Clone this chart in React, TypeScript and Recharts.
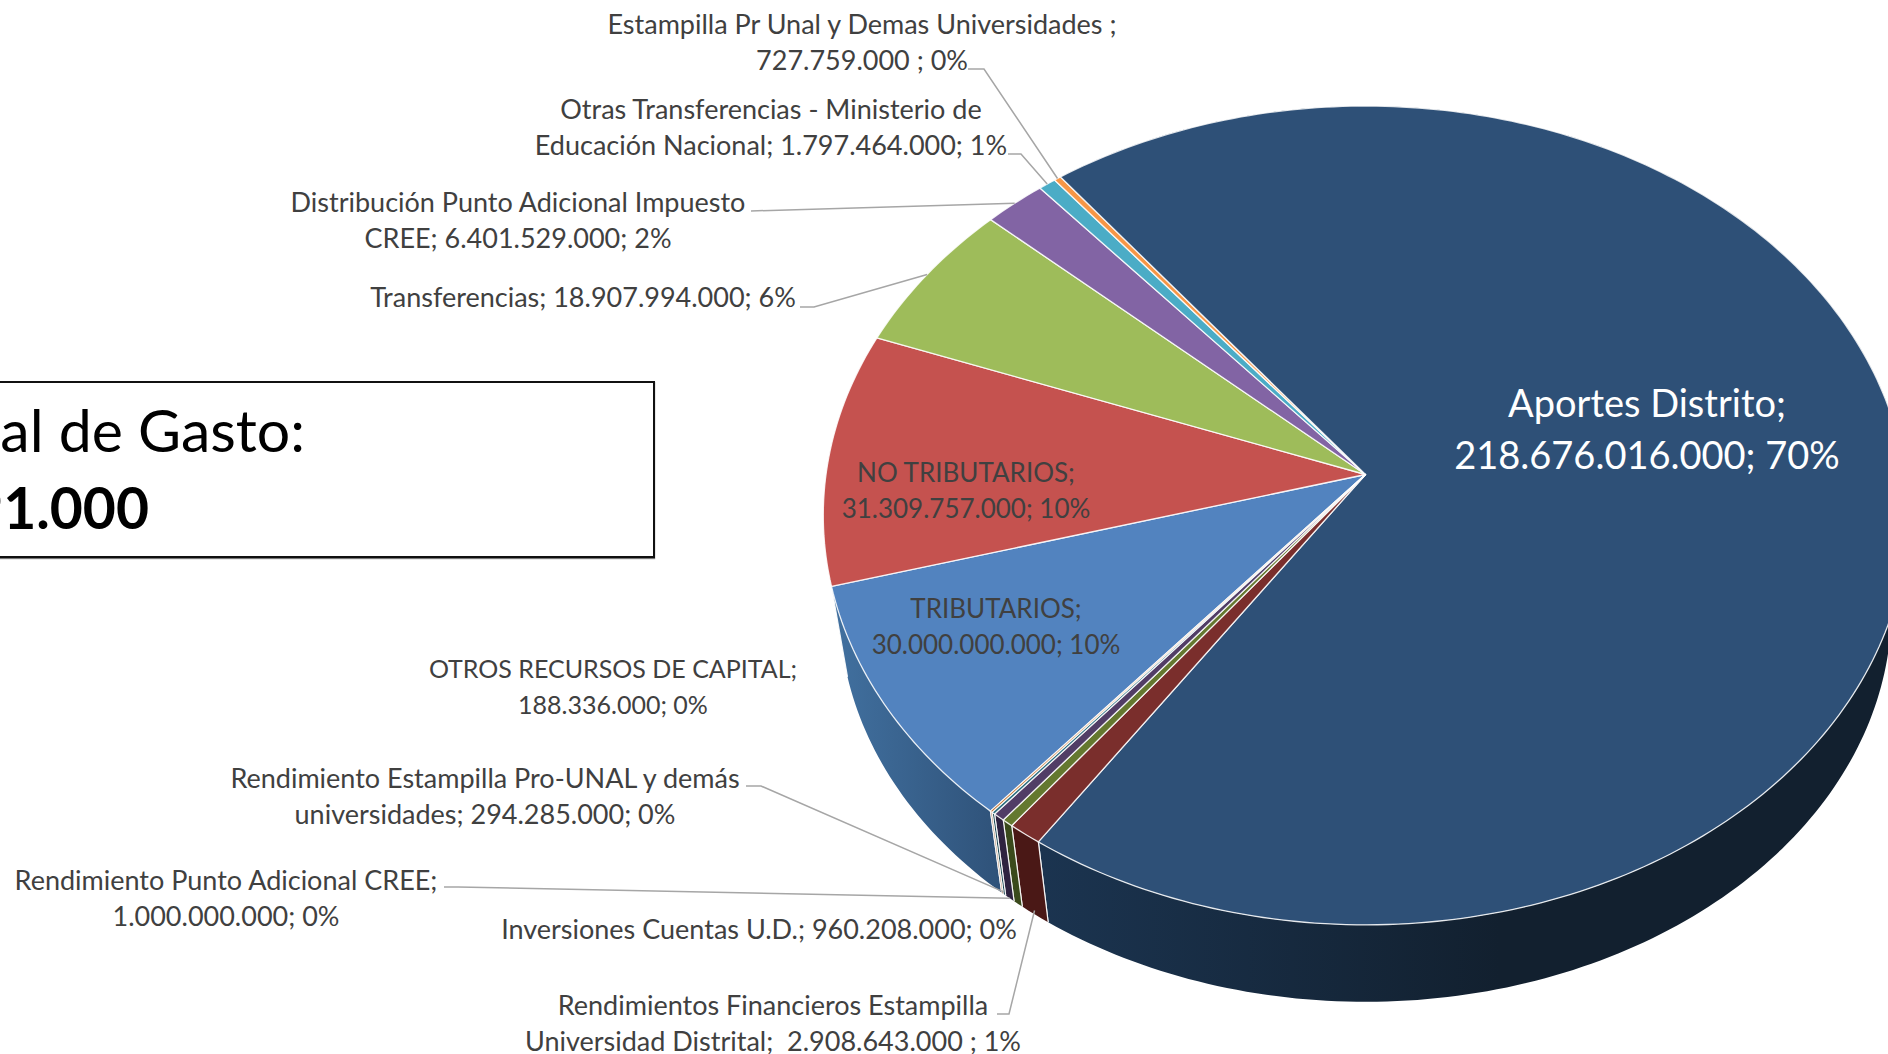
import React from 'react';
import { PieChart, Pie } from 'recharts';

const WIDTH = 1888;
const HEIGHT = 1054;

// series order as in the workbook
const categories = [
  'TRIBUTARIOS',
  'NO TRIBUTARIOS',
  'Transferencias',
  'Distribución Punto Adicional Impuesto CREE',
  'Otras Transferencias - Ministerio de Educación Nacional',
  'Estampilla Pr Unal y Demas Universidades',
  'Aportes Distrito',
  'Rendimientos Financieros Estampilla Universidad Distrital',
  'Inversiones Cuentas U.D.',
  'Rendimiento Punto Adicional CREE',
  'Rendimiento Estampilla Pro-UNAL y demás universidades',
  'OTROS RECURSOS DE CAPITAL',
];
const values = [
  30000000000, 31309757000, 18907994000, 6401529000, 1797464000, 727759000,
  218676016000, 2908643000, 960208000, 1000000000, 294285000, 188336000,
];
const labelLines = [
  ['TRIBUTARIOS;', '30.000.000.000; 10%'],
  ['NO TRIBUTARIOS;', '31.309.757.000; 10%'],
  ['Transferencias; 18.907.994.000; 6%'],
  ['Distribución Punto Adicional Impuesto', 'CREE; 6.401.529.000; 2%'],
  ['Otras Transferencias - Ministerio de', 'Educación Nacional; 1.797.464.000; 1%'],
  ['Estampilla Pr Unal y Demas Universidades ;', '727.759.000 ; 0%'],
  ['Aportes Distrito;', '218.676.016.000; 70%'],
  ['Rendimientos Financieros Estampilla', 'Universidad Distrital;  2.908.643.000 ; 1%'],
  ['Inversiones Cuentas U.D.; 960.208.000; 0%'],
  ['Rendimiento Punto Adicional CREE;', '1.000.000.000; 0%'],
  ['Rendimiento Estampilla Pro-UNAL y demás', 'universidades; 294.285.000; 0%'],
  ['OTROS RECURSOS DE CAPITAL;', '188.336.000; 0%'],
];
const topColors = [
  '#5283BF', '#C5524F', '#9EBC5A', '#8264A4', '#4BACC6', '#F79646',
  '#2E5077', '#7A2E2C', '#64782F', '#513D66', '#276A7C', '#B65708',
];
const wallColors = [
  'url(#wallBlue)', 'none', 'none', 'none', 'none', 'none',
  'url(#wallNavy)', '#4A1816', '#3A4A1C', '#2E2340', '#17444F', '#7A3A08',
];

const rows = categories.map((name, i) => ({ name, value: values[i] }));

// label placement: centre x, first baseline, size
const labelPlaces = [
  { x: 996, y: 618, size: 26 },
  { x: 966, y: 482, size: 26 },
  { x: 583, y: 307, size: 27, elbow: [[800, 307], [814, 307]] },
  { x: 518, y: 212, size: 27, elbow: [[751, 211]] },
  { x: 771, y: 119, size: 27, elbow: [[1008, 154], [1021, 154]] },
  { x: 862, y: 34, size: 27, elbow: [[968, 69], [984, 69]] },
  { x: 1647, y: 417, size: 38, white: true, gap: 52 },
  { x: 773, y: 1015, size: 27, elbow: [[997, 1014], [1009, 1014]], wall: 0.95 },
  { x: 759, y: 939, size: 27 },
  { x: 226, y: 890, size: 27, elbow: [[444, 887], [458, 887]], wall: 1 },
  { x: 485, y: 788, size: 27, elbow: [[746, 786], [761, 786]], wall: 0.97 },
  { x: 613, y: 678, size: 25 },
];

const APEX_X = 1365.5;
const APEX_Y = 474.5;
const RX = 539.5;
const RY = 405.3;
const TILT = 0.1;

// Recharts angle (degrees) -> point on the tilted rim
const rimPoint = (angle: number) => {
  const t = (angle * Math.PI) / 180;
  const u = Math.cos(t);
  const v = -Math.sin(t);
  const w = 1 - TILT * v;
  return [(RX * u) / w, (RY * v) / w];
};
const topPoint = (angle: number) => {
  const [x, y] = rimPoint(angle);
  return [APEX_X + x, APEX_Y + y];
};
const floorPoint = (angle: number) => {
  const [x, y] = rimPoint(angle);
  return [APEX_X + x * 0.97, APEX_Y + y * 0.96 + 95];
};

const arcPoints = (from: number, to: number, at: (a: number) => number[]) => {
  const steps = Math.max(2, Math.ceil(Math.abs(to - from)));
  const pts: number[][] = [];
  for (let i = 0; i <= steps; i++) pts.push(at(from + ((to - from) * i) / steps));
  return pts;
};
const toPath = (pts: number[][]) =>
  pts.map((p, i) => `${i ? 'L' : 'M'}${p[0].toFixed(2)} ${p[1].toFixed(2)}`).join('') + 'Z';

const TopSlice = (props: any) => {
  const { startAngle, endAngle, fill } = props;
  const d = toPath([[APEX_X, APEX_Y], ...arcPoints(startAngle, endAngle, topPoint)]);
  return <path d={d} fill={fill} stroke="#fff" strokeOpacity={0.85} strokeWidth={1.3} strokeLinejoin="round" />;
};

const WallSlice = (props: any) => {
  const { startAngle, endAngle, fill } = props;
  if (fill === 'none') return null;
  const top = arcPoints(startAngle, endAngle, topPoint);
  const floor = arcPoints(startAngle, endAngle, floorPoint).reverse();
  const a = topPoint(startAngle);
  const b = floorPoint(startAngle);
  const c = topPoint(endAngle);
  const e = floorPoint(endAngle);
  return (
    <g>
      <path d={toPath([...top, ...floor])} fill={fill} />
      <path d={`M${a[0]} ${a[1]}L${b[0]} ${b[1]}M${c[0]} ${c[1]}L${e[0]} ${e[1]}`} stroke="#fff" strokeOpacity={0.9} strokeWidth={1.2} fill="none" />
    </g>
  );
};

const SliceLabel = (props: any) => {
  const { index, midAngle } = props;
  const place: any = labelPlaces[index];
  const lines = labelLines[index];
  const gap = place.gap ?? 36;
  let leader = null;
  if (place.elbow) {
    const rim = topPoint(midAngle);
    let end = rim;
    if (place.wall != null) {
      const low = floorPoint(midAngle);
      end = [rim[0] + (low[0] - rim[0]) * place.wall, rim[1] + (low[1] - rim[1]) * place.wall];
    }
    leader = (
      <polyline
        points={[...place.elbow, end].map((p: number[]) => p.join(',')).join(' ')}
        fill="none"
        stroke="#A6A6A6"
        strokeWidth={1.5}
      />
    );
  }
  return (
    <g>
      {leader}
      <text
        x={place.x}
        y={place.y}
        textAnchor="middle"
        fontFamily="Lato, 'Open Sans', sans-serif"
        fontSize={place.size}
        fill={place.white ? '#FFFFFF' : '#404040'}
        style={{ whiteSpace: 'pre' }}
      >
        {lines.map((line, i) => (
          <tspan key={i} x={place.x} y={place.y + i * gap}>
            {line}
          </tspan>
        ))}
      </text>
    </g>
  );
};

const noop = () => null;

export default function App() {
  const tableTop = rows.map((r, i) => ({ ...r, fill: topColors[i] }));
  const tableWall = rows.map((r, i) => ({ ...r, fill: wallColors[i] }));
  const common = {
    dataKey: 'value',
    nameKey: 'name',
    cx: APEX_X,
    cy: APEX_Y,
    outerRadius: 405,
    startAngle: 230.07,
    endAngle: -129.93,
    isAnimationActive: false,
    labelLine: false,
    stroke: 'none',
  };
  return (
    <div style={{ position: 'fixed', left: 0, top: 0, width: WIDTH, height: HEIGHT, overflow: 'hidden', background: '#fff' }}>
      <PieChart width={WIDTH} height={HEIGHT} margin={{ top: 0, right: 0, bottom: 0, left: 0 }}>
        <defs>
          <linearGradient id="wallNavy" gradientUnits="userSpaceOnUse" x1="1040" y1="0" x2="1500" y2="0">
            <stop offset="0" stopColor="#1B3450" />
            <stop offset="1" stopColor="#12202F" />
          </linearGradient>
          <linearGradient id="wallBlue" gradientUnits="userSpaceOnUse" x1="835" y1="0" x2="1000" y2="0">
            <stop offset="0" stopColor="#41709F" />
            <stop offset="1" stopColor="#2F5279" />
          </linearGradient>
        </defs>
        <Pie {...common} data={tableWall} shape={WallSlice} inactiveShape={WallSlice} activeShape={WallSlice} label={noop} />
        <Pie {...common} data={tableTop} shape={TopSlice} inactiveShape={TopSlice} activeShape={TopSlice} label={SliceLabel} />
      </PieChart>
      <div
        style={{
          position: 'absolute',
          left: -60,
          top: 381,
          width: 711,
          height: 173,
          border: '2px solid #111',
          boxShadow: '0 1px 1px #777',
          fontFamily: "Lato, 'Open Sans', sans-serif",
          fontSize: 59,
          color: '#000',
        }}
      >
        <div style={{ position: 'absolute', right: 348, top: 11, whiteSpace: 'nowrap' }}>Total de Gasto:</div>
        <div style={{ position: 'absolute', right: 504, top: 90, fontSize: 57, fontWeight: 700, whiteSpace: 'nowrap' }}>313.171.991.000</div>
      </div>
    </div>
  );
}
